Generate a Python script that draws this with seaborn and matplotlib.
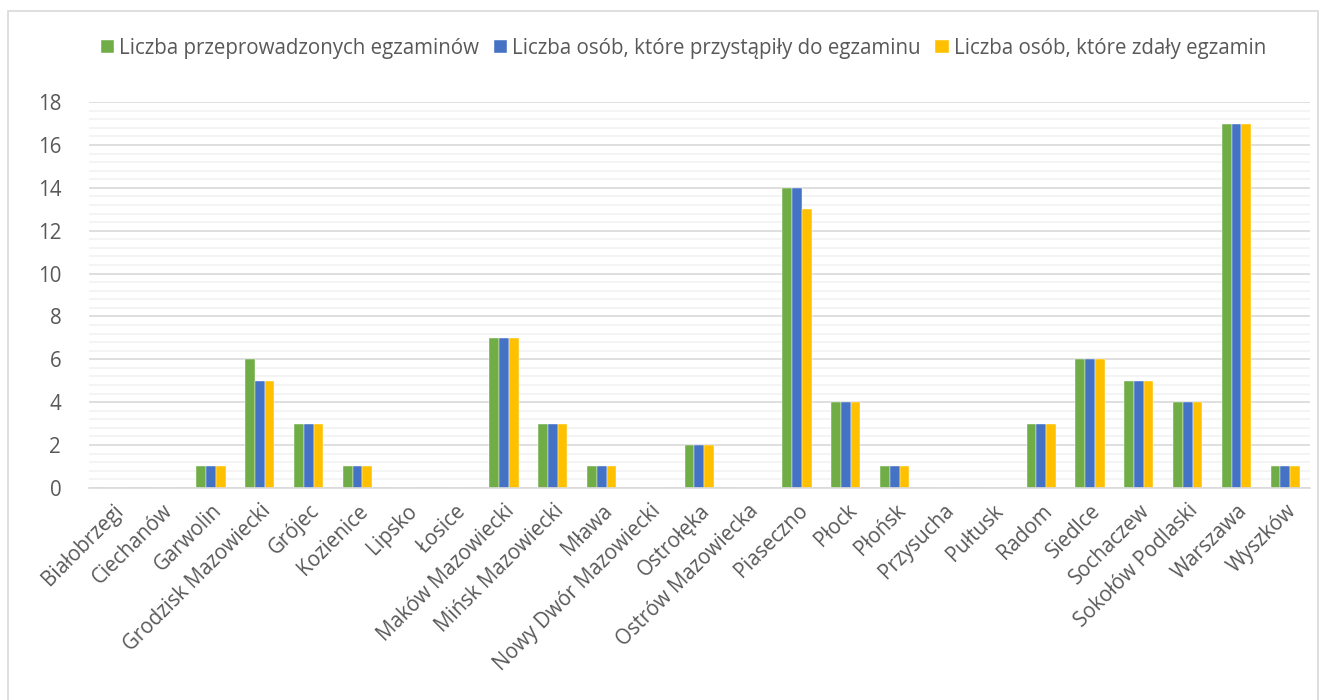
import matplotlib
matplotlib.use("Agg")
import matplotlib.pyplot as plt
from matplotlib.patches import Rectangle
from matplotlib.ticker import MultipleLocator
import pandas as pd
import seaborn as sns

# Dane
powiaty = [
    "Białobrzegi", "Ciechanów", "Garwolin", "Grodzisk Mazowiecki", "Grójec",
    "Kozienice", "Lipsko", "Łosice", "Maków Mazowiecki", "Mińsk Mazowiecki",
    "Mława", "Nowy Dwór Mazowiecki", "Ostrołęka", "Ostrów Mazowiecka",
    "Piaseczno", "Płock", "Płońsk", "Przysucha", "Pułtusk", "Radom",
    "Siedlce", "Sochaczew", "Sokołów Podlaski", "Warszawa", "Wyszków",
]
przeprowadzone = [0, 0, 1, 6, 3, 1, 0, 0, 7, 3, 1, 0, 2, 0, 14, 4, 1, 0, 0, 3, 6, 5, 4, 17, 1]
przystapily = [0, 0, 1, 5, 3, 1, 0, 0, 7, 3, 1, 0, 2, 0, 14, 4, 1, 0, 0, 3, 6, 5, 4, 17, 1]
zdaly = [0, 0, 1, 5, 3, 1, 0, 0, 7, 3, 1, 0, 2, 0, 13, 4, 1, 0, 0, 3, 6, 5, 4, 17, 1]

serie = [
    "Liczba przeprowadzonych egzaminów",
    "Liczba osób, które przystąpiły do egzaminu",
    "Liczba osób, które zdały egzamin",
]
kolory = ["#70AD47", "#4472C4", "#FFC000"]

df = pd.DataFrame({
    "powiat": powiaty * 3,
    "seria": [serie[0]] * len(powiaty) + [serie[1]] * len(powiaty) + [serie[2]] * len(powiaty),
    "wartosc": przeprowadzone + przystapily + zdaly,
})

sns.set_theme(style="white")
plt.rcParams["font.family"] = ["Open Sans", "DejaVu Sans"]
text_color = "#595959"

fig = plt.figure(figsize=(13.27, 7), dpi=100)
ax = fig.add_axes([0.067, 0.303, 0.92, 0.551])

sns.barplot(data=df, x="powiat", y="wartosc", hue="seria", palette=kolory,
            saturation=1, width=0.6, edgecolor="white", linewidth=0.3, ax=ax)

ax.set_ylim(0, 18)
ax.set_xlim(-0.5, len(powiaty) - 0.5)
ax.yaxis.set_major_locator(MultipleLocator(2))
ax.yaxis.set_minor_locator(MultipleLocator(0.4))
ax.grid(axis="y", which="major", color="#D9D9D9", linewidth=1.2)
ax.grid(axis="y", which="minor", color="#F2F2F2", linewidth=1.2)
ax.set_axisbelow(True)

for side in ["left", "right", "top"]:
    ax.spines[side].set_visible(False)
ax.spines["bottom"].set_color("#D9D9D9")
ax.spines["bottom"].set_linewidth(1.2)

ax.set_xlabel("")
ax.set_ylabel("")
ax.tick_params(axis="both", length=0, colors=text_color, labelsize=14.8)
ax.tick_params(axis="y", pad=20)
ax.tick_params(axis="x", pad=9)
plt.setp(ax.get_xticklabels(), rotation=45, ha="right", va="top", rotation_mode="anchor")

handles, labels = ax.get_legend_handles_labels()
ax.legend_.remove()
fig.legend(handles, labels, loc="center", bbox_to_anchor=(0.515, 0.931), ncol=3,
           frameon=False, fontsize=14.8, labelcolor=text_color,
           handlelength=0.65, handleheight=0.65, handletextpad=0.25, columnspacing=0.7)

fig.add_artist(Rectangle((8 / 1327, -0.01), 1310 / 1327, 0.995, transform=fig.transFigure,
                         fill=False, edgecolor="#D9D9D9", linewidth=1.2))

fig.savefig("out.png", dpi=100)
